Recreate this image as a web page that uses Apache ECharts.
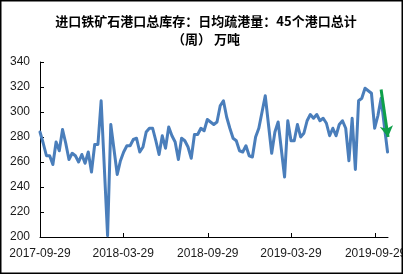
<!DOCTYPE html>
<html>
<head>
<meta charset="utf-8">
<script src="https://cdn.jsdelivr.net/npm/echarts@6/dist/echarts.min.js"></script>
<style>
html,body{margin:0;padding:0;background:#fff;}
#chart{width:403px;height:274px;}
</style>
</head>
<body>
<div id="chart"></div>
<script>
// Weekly series (Fridays), starting 2017-09-29; null = week not published (Spring Festival)
var startDate = '2017-09-29';
var values = [
  284,275,265,265,258,276,269,286,275,262,
  267,265,260,266,259,268,252,274,274,309,
  null,201,290,270,250,261,268,273,273,278,
  279,268,272,284,287,287,277,266,281,271,
  288,281,276,262,279,277,272,263,282,282,
  287,285,294,292,290,292,305,309,296,287,
  279,277,269,268,273,265,264,280,287,300,
  313,null,267,284,292,270,248,293,277,277,
  290,280,283,293,298,295,298,293,295,291,
  281,287,281,290,293,287,261,295,254,309,
  311,319,317,315,287,297,311,289,268
];
var tickLabels = ['2017-09-29','2018-03-29','2018-09-29','2019-03-29','2019-09-29'];
var axisEnd = '2019-10-26';
var yTicks = {min:200, max:340, step:20};
var arrowFrom = ['2019-10-11', 318];
var arrowTo = ['2019-10-26', 280];
var titleText = '进口铁矿石港口总库存：日均疏港量：45个港口总计\n（周） 万吨';

// days since startDate (UTC based, no timezone drift)
function dayNum(s){var p=s.split('-');return Date.UTC(+p[0],+p[1]-1,+p[2])/86400000;}
var d0 = dayNum(startDate);
function dx(s){return dayNum(s)-d0;}
var seriesData = values.map(function(v,i){ return [7*i, v]; });
var tickVals = tickLabels.map(dx);

var chart = echarts.init(document.getElementById('chart'), null, {renderer:'canvas'});
var fontFam = '"Liberation Sans", Arial, sans-serif';
chart.setOption({
  backgroundColor:'#ffffff',
  animation:false,
  title:{
    text:titleText,
    left:201, top:7,
    textAlign:'center',
    textStyle:{fontSize:13, fontWeight:'bold', color:'#000', lineHeight:18,
      fontFamily:'"Noto Sans CJK SC", sans-serif'}
  },
  grid:{left:40, right:15, top:62, bottom:37, outerBoundsMode:'none', containLabel:false},
  xAxis:{
    type:'value',
    min:0, max:dx(axisEnd),
    splitLine:{show:false},
    axisLine:{show:true, onZero:false, lineStyle:{color:'#000', width:1}},
    axisTick:{show:true, inside:true, length:4, lineStyle:{color:'#000'}, customValues:tickVals},
    axisLabel:{customValues:tickVals, color:'#1a1a1a', fontSize:12, fontFamily:fontFam, margin:11,
      hideOverlap:false, showMinLabel:true, showMaxLabel:true,
      formatter:function(v){
        var k = tickVals.indexOf(v);
        return k >= 0 ? tickLabels[k] : '';
      }}
  },
  yAxis:{
    type:'value', min:yTicks.min, max:yTicks.max, interval:yTicks.step,
    splitLine:{show:false},
    axisLine:{show:true, lineStyle:{color:'#000', width:1}},
    axisTick:{show:true, inside:true, length:4, lineStyle:{color:'#000'}},
    axisLabel:{color:'#1a1a1a', fontSize:12, fontFamily:fontFam, margin:10}
  },
  graphic:[{type:'rect', shape:{x:0.5,y:0.5,width:402,height:273}, style:{fill:'none', stroke:'#000', lineWidth:2}, silent:true, z:100}],
  series:[{
    type:'line',
    data:seriesData,
    connectNulls:true,
    showSymbol:false, symbol:'none',
    clip:false,
    lineStyle:{color:'#4A7EBB', width:3, cap:'round', join:'round'},
    emphasis:{disabled:true},
    markLine:{
      silent:true,
      symbol:['none','arrow'],
      symbolSize:[10,11],
      label:{show:false},
      emphasis:{disabled:true},
      lineStyle:{color:'#0EA04A', width:3, type:'solid'},
      data:[[{coord:[dx(arrowFrom[0]), arrowFrom[1]]},{coord:[dx(arrowTo[0]), arrowTo[1]]}]]
    }
  }]
});
</script>
</body>
</html>
